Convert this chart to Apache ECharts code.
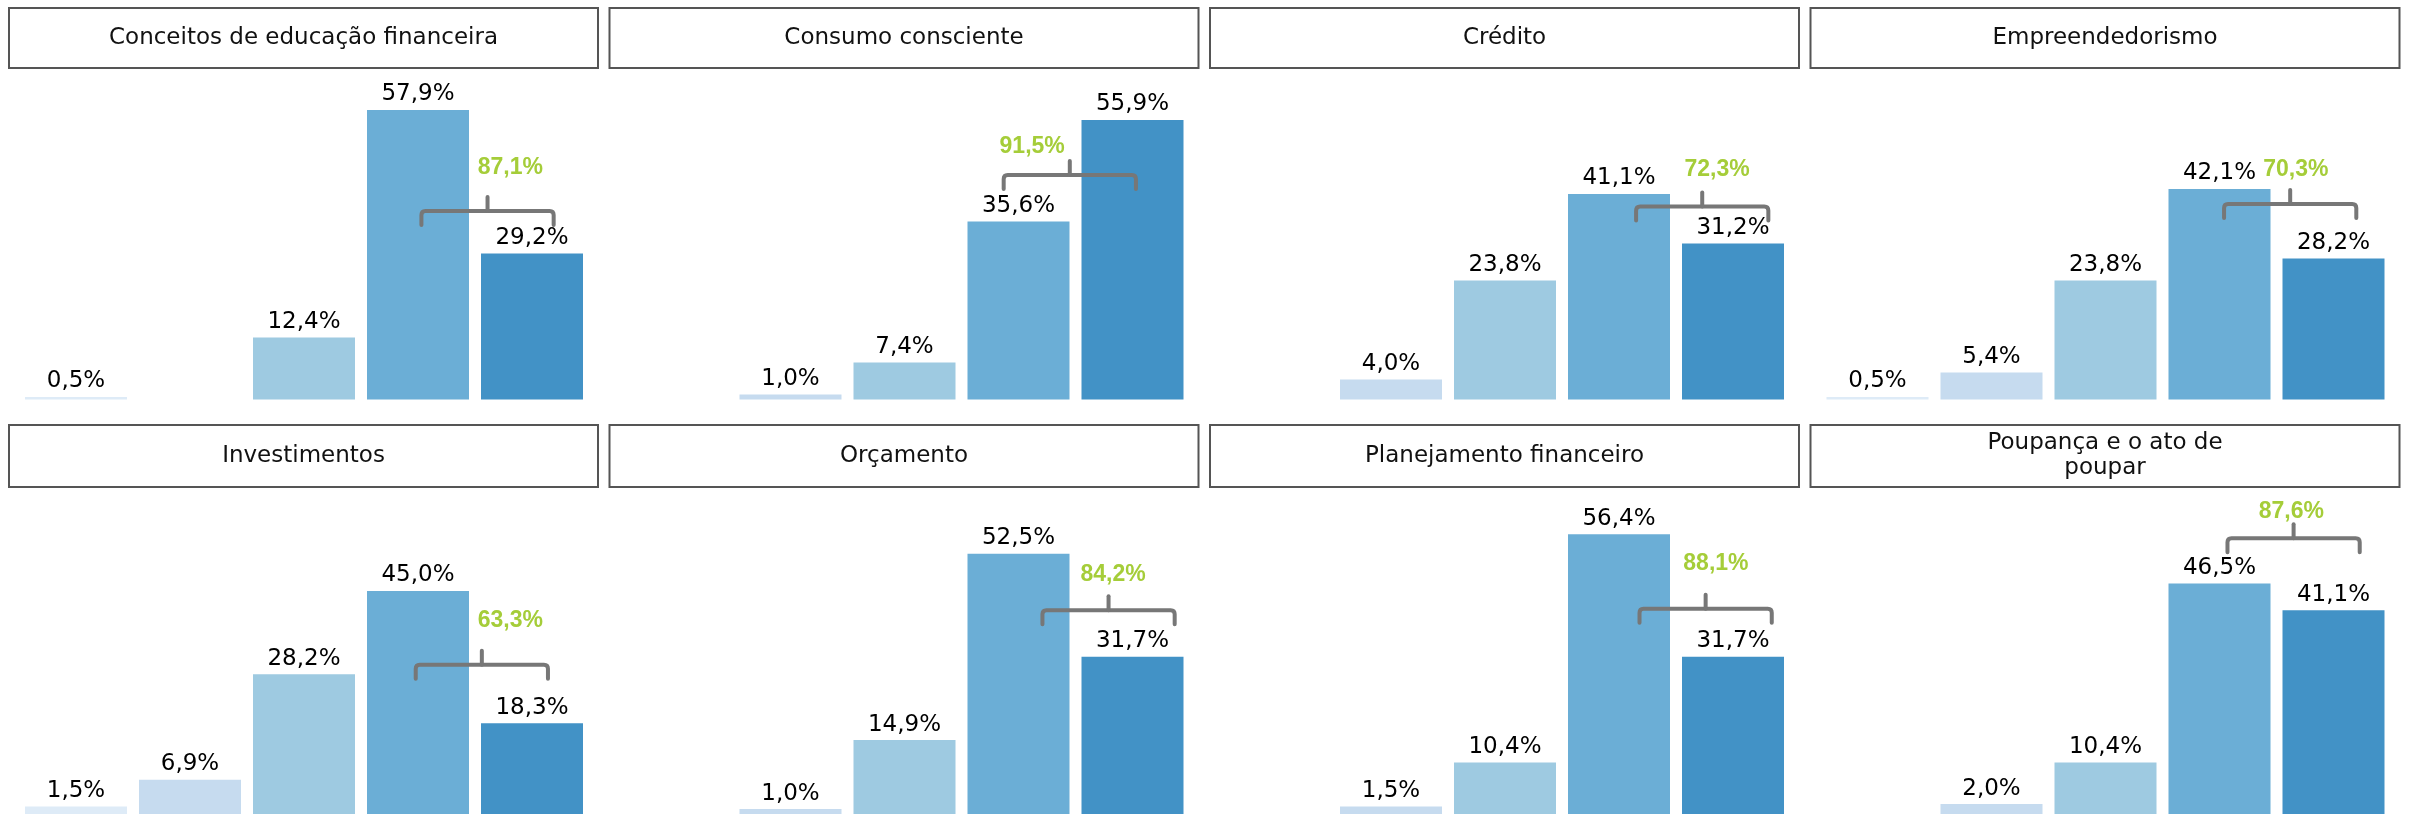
<!DOCTYPE html>
<html>
<head>
<meta charset="utf-8">
<script src="https://cdn.jsdelivr.net/npm/echarts@6/dist/echarts.min.js"></script>
<style>
  html, body { margin: 0; padding: 0; background: #fff; }
  #chart { width: 2409px; height: 814px; }
</style>
</head>
<body>
<div id="chart"></div>
<script>
// um painel por tópico, cinco níveis de resposta em cada
const topics = [
  'Conceitos de educação financeira',
  'Consumo consciente',
  'Crédito',
  'Empreendedorismo',
  'Investimentos',
  'Orçamento',
  'Planejamento financeiro',
  'Poupança e o ato de\npoupar'
];
const levels = ['1', '2', '3', '4', '5'];

// percentuais por nível (null = sem barra)
const conceitos = [0.5, null, 12.4, 57.9, 29.2];
const consumo = [null, 1.0, 7.4, 35.6, 55.9];
const credito = [null, 4.0, 23.8, 41.1, 31.2];
const empreendedorismo = [0.5, 5.4, 23.8, 42.1, 28.2];
const investimentos = [1.5, 6.9, 28.2, 45.0, 18.3];
const orcamento = [null, 1.0, 14.9, 52.5, 31.7];
const planejamento = [null, 1.5, 10.4, 56.4, 31.7];
const poupanca = [null, 2.0, 10.4, 46.5, 41.1];
const panelValues = [conceitos, consumo, credito, empreendedorismo,
  investimentos, orcamento, planejamento, poupanca];

// onde fica a chave dos níveis 4+5 em cada painel (unidades dos eixos)
const bracketFrom = [3.03, 2.87, 3.15, 3.04, 2.98, 3.21, 3.18, 3.07];
const bracketLevel = [37.7, 44.9, 38.6, 39.1, 30.1, 41.1, 41.4, 55.6];
const totalX = [3.81, 3.12, 3.86, 3.67, 3.81, 3.83, 3.85, 3.63];
const totalLevel = [46.4, 50.6, 45.9, 45.9, 39.0, 48.3, 50.5, 61.0];

const levelColors = ['#deebf7', '#c6dbef', '#9ecae1', '#6baed6', '#4292c6'];
const FONT = 'DejaVu Sans';

const fmt = v => v.toFixed(1).replace('.', ',') + '%';

const chart = echarts.init(document.getElementById('chart'));

const grids = [], xAxes = [], yAxes = [], series = [], graphics = [];

topics.forEach((topic, i) => {
  const col = i % 4;
  const row = Math.floor(i / 4);
  const boxX = 9 + col * 600.5;
  const boxY = row === 0 ? 8 : 425;
  const boxH = row === 0 ? 60 : 62;
  const baseY = row === 0 ? 399.5 : 816.5;
  const vals = panelValues[i];

  grids.push({ left: boxX + 10, width: 570, top: baseY - 300, height: 300 });
  xAxes.push({ type: 'category', gridIndex: i, data: levels, show: false });
  xAxes.push({ type: 'value', gridIndex: i, min: -0.5, max: 4.5, show: false });
  yAxes.push({ type: 'value', gridIndex: i, min: 0, max: 60, show: false, splitLine: { show: false } });

  series.push({
    type: 'bar',
    xAxisIndex: 2 * i,
    yAxisIndex: i,
    barWidth: 102,
    z: 2,
    data: vals.map((v, k) => v == null ? '-' : { value: v, itemStyle: { color: levelColors[k] } }),
    label: {
      show: true,
      position: 'top',
      distance: 4,
      color: '#000',
      fontSize: 23,
      fontFamily: FONT,
      formatter: p => fmt(p.value)
    }
  });

  const total = fmt(vals[3] + vals[4]);
  series.push({
    type: 'custom',
    xAxisIndex: 2 * i + 1,
    yAxisIndex: i,
    silent: true,
    z: 10,
    data: [[bracketFrom[i], bracketLevel[i], totalX[i], totalLevel[i]]],
    renderItem: (params, api) => {
      const a = api.coord([api.value(0), api.value(1)]);
      const b = api.coord([api.value(0) + 1.16, api.value(1)]);
      const t = api.coord([api.value(2), api.value(3)]);
      const mid = (a[0] + b[0]) / 2;
      const y = a[1];
      const lineStyle = { stroke: '#777777', lineWidth: 4, lineCap: 'round', lineJoin: 'round', fill: null };
      return {
        type: 'group',
        children: [
          {
            type: 'path',
            shape: {
              pathData: `M${a[0]} ${y + 14} L${a[0]} ${y + 4} Q${a[0]} ${y} ${a[0] + 4} ${y} ` +
                `L${b[0] - 4} ${y} Q${b[0]} ${y} ${b[0]} ${y + 4} L${b[0]} ${y + 14}`
            },
            style: lineStyle
          },
          { type: 'line', shape: { x1: mid, y1: y, x2: mid, y2: y - 14 }, style: lineStyle },
          {
            type: 'text', x: t[0], y: t[1],
            style: {
              text: total, fill: '#a5cd39', fontSize: 23, fontWeight: 'bold',
              fontFamily: 'Liberation Sans', align: 'center', verticalAlign: 'middle'
            }
          }
        ]
      };
    }
  });

  graphics.push({
    type: 'rect',
    shape: { x: boxX, y: boxY, width: 589, height: boxH },
    style: { fill: '#fff', stroke: '#555555', lineWidth: 2 }
  });
  graphics.push({
    type: 'text',
    x: boxX + 294.5,
    y: boxY + boxH / 2,
    style: {
      text: topic, fill: '#111', fontSize: 23, fontFamily: FONT,
      align: 'center', verticalAlign: 'middle', lineHeight: 25
    }
  });
});

chart.setOption({
  animation: false,
  backgroundColor: '#fff',
  grid: grids,
  xAxis: xAxes,
  yAxis: yAxes,
  series: series,
  graphic: graphics
});
</script>
</body>
</html>
